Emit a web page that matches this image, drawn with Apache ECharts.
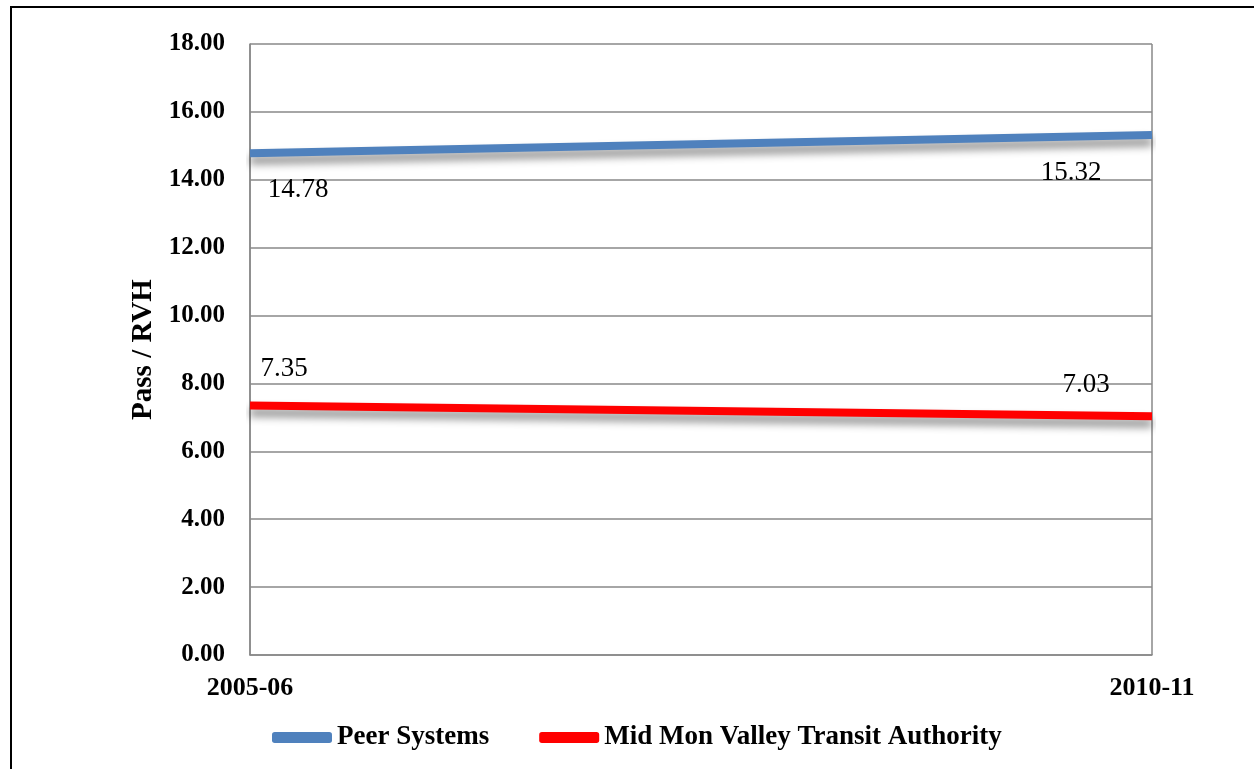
<!DOCTYPE html>
<html>
<head>
<meta charset="utf-8">
<script src="https://cdn.jsdelivr.net/npm/echarts@6/dist/echarts.min.js"></script>
<style>html,body{margin:0;padding:0;background:#fff;}#c{width:1254px;height:769px;}</style>
</head>
<body>
<div id="c"></div>
<script>
var categories = ['2005-06', '2010-11'];
var peerValues = [14.78, 15.32];
var mmvtaValues = [7.35, 7.03];
var seriesNames = ['Peer Systems', 'Mid Mon Valley Transit Authority'];
var seriesColors = ['#4F81BD', '#FF0000'];
var yAxisName = 'Pass / RVH';

var FONT = '"Liberation Serif", "Times New Roman", serif';
var chart = echarts.init(document.getElementById('c'), null, {renderer: 'canvas'});

function labeled(values, offsets) {
  return values.map(function (v, i) {
    return {value: v, label: {offset: offsets[i]}};
  });
}

function lineSeries(name, color, values, offsets) {
  return {
    name: name, type: 'line', symbol: 'circle', showSymbol: true, symbolSize: 2,
    color: color,
    itemStyle: {color: 'rgba(0,0,0,0)', borderWidth: 0},
    lineStyle: {width: 8, color: color, shadowColor: 'rgba(0,0,0,0.45)', shadowBlur: 8, shadowOffsetY: 7},
    label: {show: true, position: 'inside', fontFamily: FONT, fontSize: 27, color: '#000',
      formatter: function (p) { return p.value.toFixed(2); }},
    emphasis: {disabled: true},
    data: labeled(values, offsets)
  };
}

var option = {
  animation: false,
  backgroundColor: '#fff',
  graphic: [{
    type: 'rect', silent: true, z: -1,
    shape: {x: 11, y: 7, width: 1400, height: 900},
    style: {fill: 'none', stroke: '#000', lineWidth: 2}
  }],
  grid: {left: 250, right: 102, top: 44, bottom: 114, containLabel: false},
  legend: {
    bottom: 13, left: 267,
    itemWidth: 60, itemHeight: 11, itemGap: 50,
    icon: 'roundRect',
    textStyle: {fontFamily: FONT, fontWeight: 'bold', fontSize: 27, color: '#000'},
    data: seriesNames.map(function (n, i) {
      return {name: n, itemStyle: {color: seriesColors[i], opacity: 1, borderWidth: 0}};
    })
  },
  xAxis: {
    type: 'category', data: categories, boundaryGap: false,
    axisLine: {show: true, lineStyle: {color: '#888', width: 1.5}},
    axisTick: {show: false},
    axisLabel: {fontFamily: FONT, fontWeight: 'bold', fontSize: 26, color: '#000', margin: 20},
    splitLine: {show: true, lineStyle: {color: '#888', width: 1.5}}
  },
  yAxis: {
    type: 'value', min: 0, max: 18, interval: 2,
    name: yAxisName, nameLocation: 'middle', nameGap: 91, nameRotate: 90,
    nameTextStyle: {fontFamily: FONT, fontWeight: 'bold', fontSize: 29, color: '#000'},
    axisLine: {show: true, lineStyle: {color: '#888', width: 1.5}},
    axisTick: {show: false},
    axisLabel: {fontFamily: FONT, fontWeight: 'bold', fontSize: 25, color: '#000', margin: 25,
      formatter: function (v) { return v.toFixed(2); }},
    splitLine: {show: true, lineStyle: {color: '#888', width: 1.5}}
  },
  series: [
    lineSeries(seriesNames[0], seriesColors[0], peerValues, [[48, 37], [-81, 38]]),
    lineSeries(seriesNames[1], seriesColors[1], mmvtaValues, [[34, -37], [-66, -31]])
  ]
};
chart.setOption(option);
</script>
</body>
</html>
